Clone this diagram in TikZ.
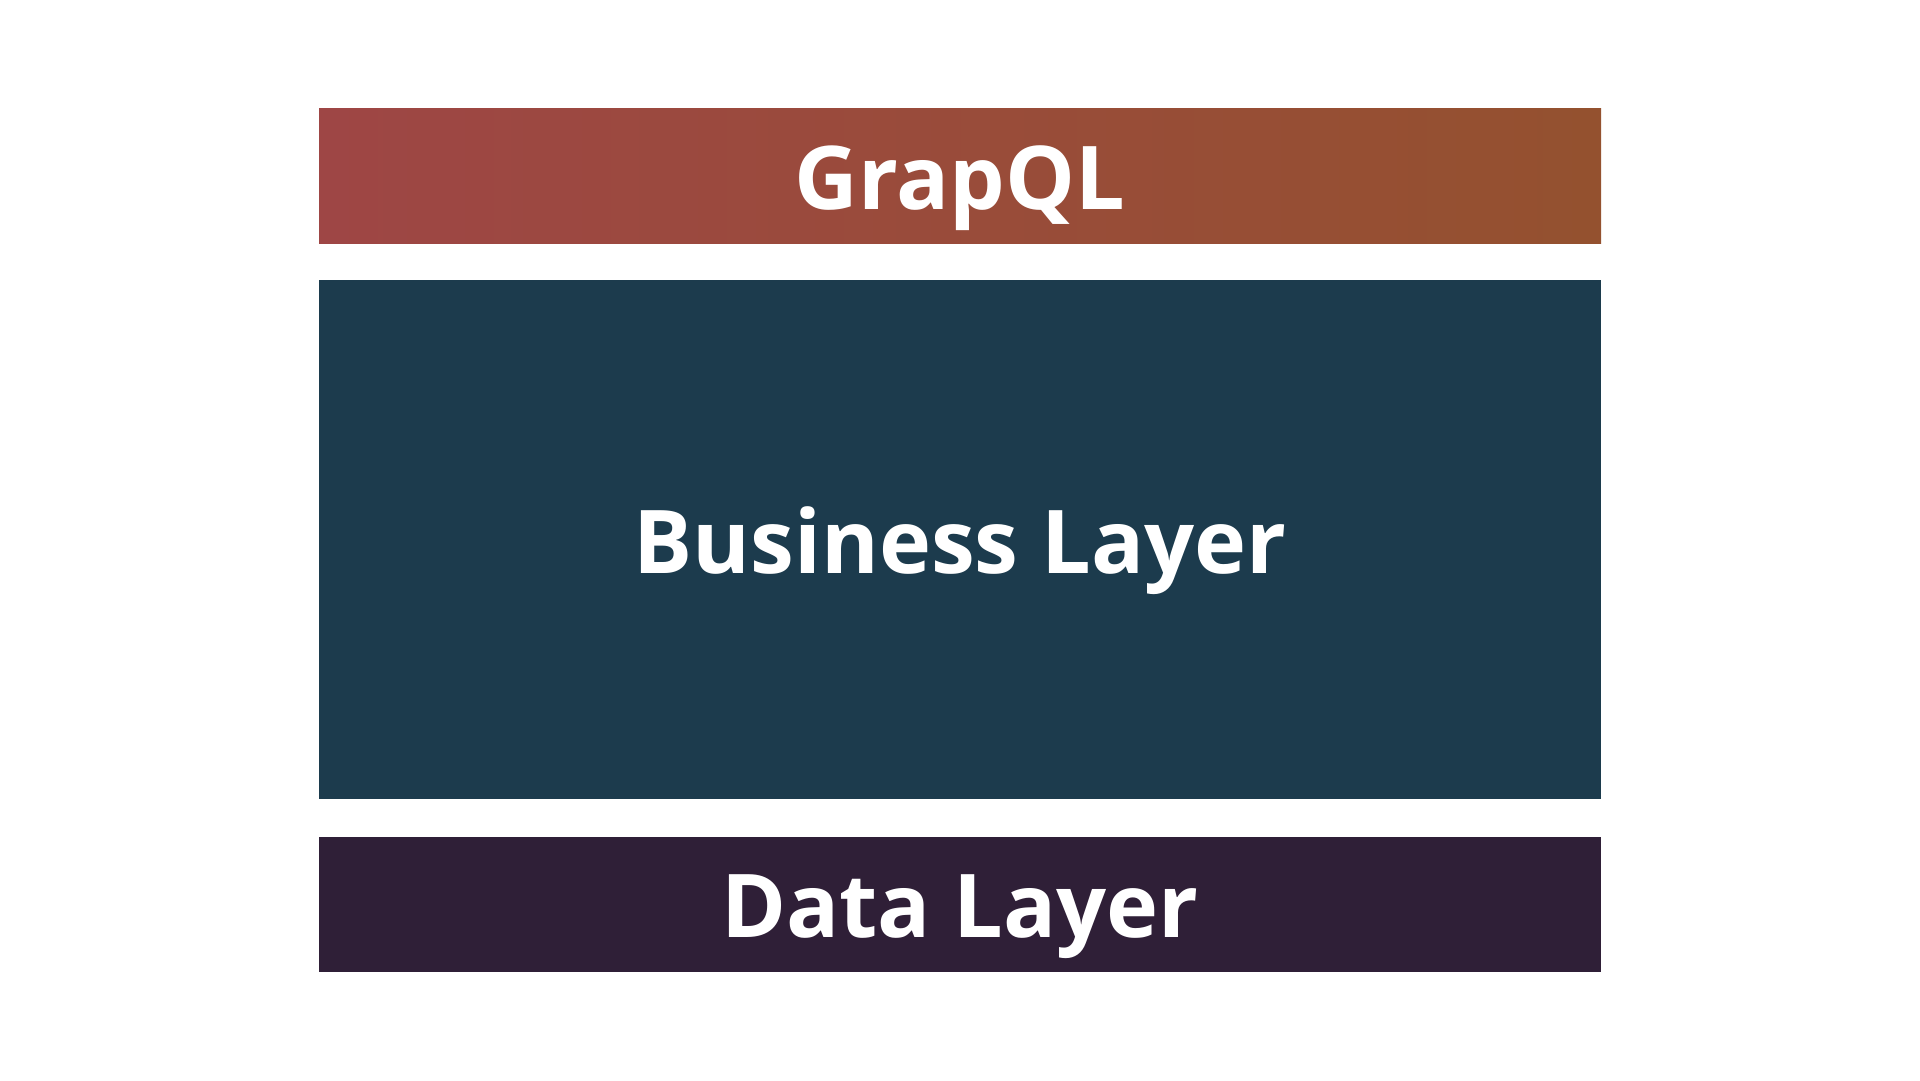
\documentclass[tikz,border=0pt]{standalone}
\usepackage{fontspec}
\setmainfont{Open Sans}
\definecolor{gqlL}{HTML}{9E4645}
\definecolor{gqlR}{HTML}{94512F}
\definecolor{bizC}{HTML}{1C3B4D}
\definecolor{dataC}{HTML}{2F1F37}
\tikzset{
  layertext/.style={text=white, font=\bfseries\fontsize{88}{106}\selectfont, anchor=base, inner sep=0pt}
}
\begin{document}
\begin{tikzpicture}[x=1pt,y=-1pt]
\fill[white] (0,0) rectangle (1920,1080);
\useasboundingbox (0,0) rectangle (1920,1080);
\shade[left color=gqlL, right color=gqlR] (319,108) rectangle (1601,243);
\fill[bizC] (319,280) rectangle (1601,799);
\fill[dataC] (319,837) rectangle (1601,972);
\node[layertext] (gql) at (960,209) {GrapQL};
\node[layertext] (biz) at (960,573) {Business Layer};
\node[layertext] (data) at (960,937) {Data Layer};
\end{tikzpicture}
\end{document}
